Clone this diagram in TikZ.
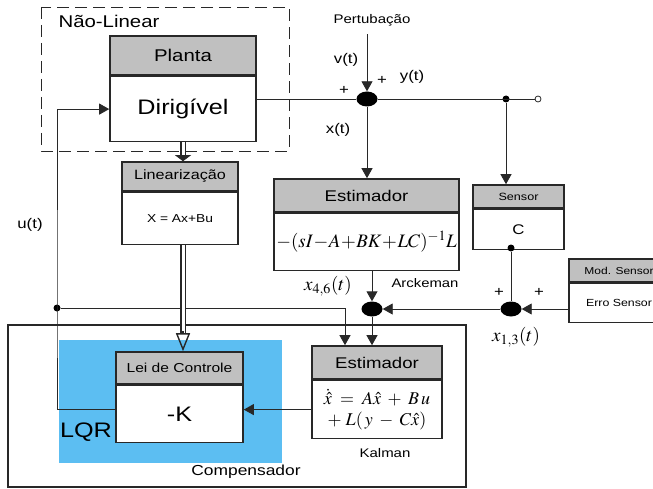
\documentclass[tikz,border=0pt]{standalone}
\usepackage{mathptmx}
\usepackage[no-math]{fontspec}
\setmainfont{Liberation Sans}[FakeStretch=1.2]
\usetikzlibrary{arrows.meta, shapes.geometric, positioning, calc}
\definecolor{linegray}{RGB}{40,40,40}
\definecolor{hdrgray}{RGB}{192,192,192}
\definecolor{lqrblue}{RGB}{92,190,242}
\newcommand{\fsz}[1]{\fontsize{#1}{#1}\selectfont}

\begin{document}
\begin{tikzpicture}[x=1pt, y=-1pt,
    hdr/.style={draw=linegray, line width=1.6pt, fill=hdrgray, inner sep=0pt},
    blk/.style={draw=linegray, line width=1.6pt, fill=white, inner sep=0pt, align=center},
    sumj/.style={ellipse, fill=black, minimum width=21pt, minimum height=15pt, inner sep=0pt},
    jdot/.style={circle, fill=black, minimum size=7pt, inner sep=0pt},
    lbl/.style={inner sep=0pt, font=\fsz{14}},
    ln/.style={line width=0.9pt, draw=linegray},
    arr/.style={-{Triangle[length=10pt,width=11pt]}, line width=0.9pt, draw=linegray},
    dbl/.style={double=white, double distance=3pt, line width=1.4pt, draw=linegray}
  ]
  \useasboundingbox (0,0) rectangle (653,489);
  \clip (0,0) rectangle (653,489);

  % regioes
  \fill[lqrblue] (59,340) rectangle (282,463);
  \draw[line width=1.6pt, draw=linegray] (8,325) rectangle (466,487);
  \draw[linegray, line width=0.8pt, dash pattern=on 12pt off 6pt] (41,7) rectangle (289,151);

  % blocos
  \node[hdr, minimum width=146pt, minimum height=39pt, font=\fsz{17}] (plantaH) at (183,55.5) {Planta};
  \node[blk, minimum width=146pt, minimum height=65pt, below=0pt of plantaH, font=\fsz{21}] (planta) {Dirigível};

  \node[hdr, minimum width=116pt, minimum height=29pt, font=\fsz{13.5}] (linH) at (180,176.5) {Linearização};
  \node[blk, minimum width=116pt, minimum height=52pt, below=0pt of linH, font=\fsz{11.5}] (lin) {X = Ax+Bu};

  \node[hdr, minimum width=185pt, minimum height=33pt, font=\fsz{15.5}] (estAH) at (366.5,195.5) {Estimador};
  \node[blk, minimum width=185pt, minimum height=57pt, below=0pt of estAH, font=\fsz{19}] (estA)
    {$-(sI\!-\!A\!+\!BK\!+\!LC)^{-1}L$};

  \node[hdr, minimum width=91pt, minimum height=23pt, font=\fsz{10.5}] (sensH) at (518.5,196.5) {Sensor};
  \node[blk, minimum width=91pt, minimum height=40pt, below=0pt of sensH, font=\fsz{14}] (sens) {C};

  \node[hdr, minimum width=100pt, minimum height=23pt, font=\fsz{10}] (modSH) at (619,270.5) {Mod. Sensor};
  \node[blk, minimum width=100pt, minimum height=39pt, below=0pt of modSH, font=\fsz{10.3}] (modS) {Erro Sensor};

  \node[hdr, minimum width=127pt, minimum height=32pt, font=\fsz{13}] (leiH) at (179.5,368) {Lei de Controle};
  \node[blk, minimum width=127pt, minimum height=57pt, below=0pt of leiH, font=\fsz{21}] (lei) {-K};

  \node[hdr, minimum width=130pt, minimum height=33pt, font=\fsz{15.5}] (estKH) at (377,362.5) {Estimador};
  \node[blk, minimum width=130pt, minimum height=58pt, below=0pt of estKH, font=\fsz{18}] (estK)
    {$\dot{\hat{x}} \;=\; A\hat{x} \;+\; B\,u$\\[3pt]$+\;L(\,y \;-\; C\hat{x})$};

  % somadores e pontos
  \node[sumj] (sum1) at (367,99) {};
  \node[sumj] (sum2) at (372,309) {};
  \node[sumj] (sum3) at (511,309) {};
  \node[jdot] (d1) at (506,99) {};
  \node[jdot] (d2) at (57,308) {};
  \node[jdot] (d3) at (511,248) {};
  \node[circle, draw=linegray, line width=0.8pt, fill=white, minimum size=6pt, inner sep=0pt] (out) at (538,99) {};

  % textos
  \node[lbl, font=\fsz{12.5}] (pert) at (372,20) {Pertubação};
  \node[lbl] (vt) at (346,60) {v(t)};
  \node[lbl] (yt) at (412,77) {y(t)};
  \node[lbl] (xt) at (338,130) {x(t)};
  \node[lbl] (ut) at (30,225) {u(t)};
  \node[lbl] (p1) at (382,80) {+};
  \node[lbl] (p2) at (344,90) {+};
  \node[lbl] (p3) at (499,292) {+};
  \node[lbl] (p4) at (539,292) {+};
  \node[lbl, font=\fsz{17}] (nl) at (109,21) {Não-Linear};
  \node[lbl, font=\fsz{12.4}] (arck) at (425,283) {Arckeman};
  \node[lbl, font=\fsz{12.5}] (kalm) at (385,453) {Kalman};
  \node[lbl, font=\fsz{14.5}] (comp) at (246,472) {Compensador};
  \node[lbl, font=\fsz{21}] (lqr) at (86,432) {LQR};
  \node[lbl, font=\fsz{19}] (x46) at (328,286) {$x_{4,6}(t)$};
  \node[lbl, font=\fsz{19}] (x13) at (516,337) {$x_{1,3}(t)$};

  % ligacoes
  \draw[ln] (planta.east |- sum1) -- (sum1);
  \draw[arr] (sum1 |- pert.south) ++(0,8) -- (sum1);
  \draw[ln] (sum1) -- (out);
  \draw[arr] (sum1) -- (sum1 |- estAH.north);
  \draw[arr] (d1) -- (d1 |- sensH.north);
  \draw[ln] (d3) -- (sum3);
  \draw[arr] (sum3 -| modS.west) -- (sum3);
  \draw[arr] (sum3) -- (sum2);
  \draw[arr] (sum2 |- estA.south) -- (sum2);
  \draw[arr] (sum2) -- (sum2 |- estKH.north);
  \draw[arr] (d2) -| ([xshift=-32pt]estKH.north);
  \draw[arr] ([yshift=5pt]lei.west) -| (d2.center) |- (planta.west);
  \draw[arr] (estK.west) -- (estK.west -| lei.east);

  % setas duplas
  \draw[dbl, shorten >=5pt] (planta.south) -- (planta.south |- linH.north);
  \draw[linegray, line width=0.8pt, -{Triangle[length=6pt,width=16pt]}]
    ([yshift=6pt]linH.north -| planta.south) -- (linH.north -| planta.south);
  \draw[dbl, shorten >=18pt] (lin.south -| planta.south) -- (leiH.north -| planta.south);
  \draw[linegray, line width=1.4pt, -{Triangle[open, length=18pt, width=14pt]}]
    ([yshift=20pt]leiH.north -| planta.south) -- (leiH.north -| planta.south);
\end{tikzpicture}
\end{document}
